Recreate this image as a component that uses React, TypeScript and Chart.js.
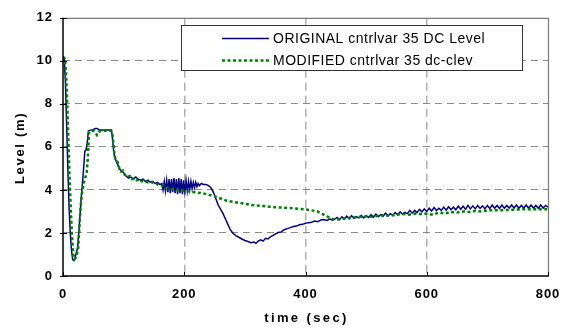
import React, { useEffect, useRef } from "react";
import { Chart, registerables } from "chart.js";

Chart.register(...registerables);

const xTicks = [0, 200, 400, 600, 800];
const yTicks = [0, 2, 4, 6, 8, 10, 12];
const xTitle = "time (sec)";
const yTitle = "Level (m)";
const seriesLabels = ["ORIGINAL cntrlvar 35 DC Level", "MODIFIED cntrlvar 35 dc-clev"];

const originalTime = [
  0, 2, 4, 6, 8, 10, 12, 14, 16, 18, 20, 22, 24, 26, 28, 30, 32, 34, 36, 38, 40, 42, 45, 50, 53, 56, 60, 65, 70, 75, 80,
  82, 84, 86, 90, 94, 98, 100, 104, 108, 112, 116, 120, 124, 128, 132, 136, 140, 144, 148, 152, 156, 160, 163,
  165, 167, 169, 171, 173, 175, 177, 179, 181, 183, 185, 187, 189, 191, 193, 195, 197, 199, 201, 203, 205, 207, 209,
  211, 213, 215, 217, 219, 221, 223, 225, 228, 232, 236, 240, 244, 248, 252, 256, 260, 264, 268, 272, 276, 280, 285,
  290, 295, 300, 305, 310, 315, 318, 322, 326, 330, 334, 338, 342, 346, 350, 355, 360, 365, 370, 375, 380, 385, 390,
  395, 400, 405, 410, 415, 420, 425, 430, 435, 440, 445, 450,
  452, 456, 460, 464, 468, 472, 476, 480, 484, 488, 492, 496, 500, 504, 508, 512, 516, 520, 524, 528, 532, 536, 540,
  544, 548, 552, 556, 560, 564, 568, 572, 576, 580, 584, 588, 592, 596, 600, 604, 608, 612, 616, 620, 624, 628, 632,
  636, 640, 644, 648, 652, 656, 660, 664, 668, 672, 676, 680, 684, 688, 692, 696, 700, 704, 708, 712, 716, 720, 724,
  728, 732, 736, 740, 744, 748, 752, 756, 760, 764, 768, 772, 776, 780, 784, 788, 792, 796, 800,
];
const originalLevel = [
  10.2, 10.1, 9.0, 7.0, 5.0, 3.2, 2.0, 1.2, 0.75, 0.72, 0.85, 1.1, 1.3, 2.0, 2.8, 3.6, 4.3, 5.0, 5.8, 5.85, 6.2, 6.75,
  6.78, 6.8, 6.85, 6.85, 6.8, 6.78, 6.78, 6.78, 6.78,
  6.3, 5.7, 5.45, 5.2, 4.95, 4.85, 4.8, 4.65, 4.55, 4.6, 4.5, 4.6, 4.5, 4.45, 4.5, 4.4, 4.45, 4.35, 4.4, 4.3, 4.35,
  4.25, 4.3,
  4.0, 4.4, 3.95, 4.45, 3.9, 4.5, 3.85, 4.5, 3.9, 4.55, 3.85, 4.5, 3.8, 4.55, 3.85, 4.5, 3.8, 4.45, 3.9, 4.45, 3.95,
  4.4, 4.0, 4.4, 4.05, 4.35, 4.1, 4.35, 4.15, 4.3, 4.2, 4.3, 4.25, 4.25, 4.2, 4.1, 3.9, 3.6, 3.3, 3.1, 2.9, 2.65, 2.4,
  2.15, 2.0, 1.88, 1.8, 1.72, 1.65, 1.6, 1.55, 1.58, 1.52, 1.62, 1.68, 1.62, 1.75, 1.72, 1.82, 1.88, 1.95, 2.02, 2.05,
  2.15, 2.2, 2.25, 2.3, 2.32, 2.38, 2.4, 2.45, 2.48, 2.5, 2.55, 2.52, 2.6, 2.62, 2.58, 2.65, 2.6, 2.68,
  2.72, 2.62, 2.75, 2.65, 2.78, 2.66, 2.8, 2.68, 2.76, 2.7, 2.82, 2.7, 2.8, 2.72, 2.85, 2.74, 2.88, 2.76, 2.85, 2.78,
  2.92, 2.8, 2.9, 2.82, 2.95, 2.84, 2.98, 2.88, 2.96, 2.9, 3.05, 2.92, 3.05, 2.95, 3.1, 2.98, 3.12, 3.0, 3.15, 3.02,
  3.18, 3.04, 3.15, 3.05, 3.2, 3.06, 3.22, 3.08, 3.2, 3.08, 3.25, 3.1, 3.24, 3.1, 3.28, 3.12, 3.26, 3.12, 3.28, 3.14,
  3.26, 3.12, 3.28, 3.14, 3.3, 3.15, 3.28, 3.14, 3.3, 3.15, 3.28, 3.16, 3.3, 3.16, 3.3, 3.15, 3.28, 3.16, 3.3, 3.15,
  3.3, 3.16, 3.28, 3.15, 3.3, 3.16, 3.28, 3.2,
];

const modifiedTime = [
  0, 3, 5, 7, 9, 11, 13, 15, 17, 19, 21, 23, 25, 27, 29, 31, 33, 35, 37, 39, 41, 43, 46, 50, 53, 56, 59, 63, 70, 78,
  81, 83, 85, 87, 90, 93, 96, 99, 102, 106, 110, 114, 118, 122, 126, 130, 135, 140, 145, 150, 155, 160, 165, 170, 175,
  180, 185, 190, 195, 200, 210, 220, 230, 240, 250, 260, 270, 280, 290, 300, 310, 320, 330, 340, 350, 360, 370, 380,
  390, 400, 410, 420, 425, 430, 435, 440, 445, 450, 460, 470, 480, 490, 500, 510, 520, 530, 540, 550, 560, 570, 580,
  590, 600, 610, 620, 630, 640, 650, 660, 670, 680, 690, 700, 720, 740, 760, 780, 800,
];
const modifiedLevel = [
  10.2, 10.1, 9.5, 8.0, 6.2, 4.5, 3.0, 1.8, 1.0, 0.78, 0.85, 1.0, 1.3, 2.2, 3.2, 3.8, 4.1, 4.4, 4.6, 4.75, 5.5, 6.7,
  6.75, 6.75, 6.7, 6.55, 6.7, 6.75, 6.75, 6.75,
  6.7, 6.2, 5.6, 5.4, 5.3, 5.0, 4.85, 4.9, 4.7, 4.6, 4.65, 4.5, 4.55, 4.45, 4.5, 4.4, 4.42, 4.35, 4.38, 4.3, 4.28, 4.2,
  4.2, 4.1, 4.12, 4.05, 4.05, 4.0, 3.98, 3.95, 3.92, 3.88, 3.85, 3.78, 3.7, 3.6, 3.5, 3.45, 3.4, 3.36, 3.3, 3.28, 3.25,
  3.22, 3.2, 3.18, 3.16, 3.15, 3.12, 3.1, 3.05, 3.0, 2.92, 2.85, 2.78, 2.7, 2.65, 2.62, 2.65, 2.7, 2.72, 2.75, 2.78,
  2.75, 2.8, 2.82, 2.8, 2.85, 2.88, 2.85, 2.9, 2.88, 2.9, 2.85, 2.95, 2.9, 2.98, 2.95, 3.0, 2.98, 3.02, 3.0, 3.05, 3.05,
  3.08, 3.1, 3.1, 3.1,
];

const FONT = "'Liberation Sans', Arial, Helvetica, sans-serif";

const decorPlugin = {
  id: "decor",
  beforeDraw(chart: any) {
    (chart.ctx as any).letterSpacing = "1px";
  },
  afterDraw(chart: any) {
    const ctx = chart.ctx as any;
    const ca = chart.chartArea;
    const xs = chart.scales.x;
    const ys = chart.scales.y;
    ctx.save();
    ctx.setLineDash([]);
    ctx.strokeStyle = "#7a7a7a";
    ctx.lineWidth = 1.2;
    ctx.beginPath();
    ctx.moveTo(ca.left, ca.top + 0.5);
    ctx.lineTo(ca.right + 0.5, ca.top + 0.5);
    ctx.lineTo(ca.right + 0.5, ca.bottom);
    ctx.stroke();
    ctx.strokeStyle = "#000";
    ctx.lineWidth = 1.5;
    ctx.beginPath();
    ctx.moveTo(ca.left, ca.top);
    ctx.lineTo(ca.left, ca.bottom);
    ctx.lineTo(ca.right + 1, ca.bottom);
    ctx.stroke();
    ctx.lineWidth = 1;
    ctx.beginPath();
    xTicks.forEach((v) => {
      const px = Math.round(xs.getPixelForValue(v)) + 0.5;
      ctx.moveTo(px, ca.bottom);
      ctx.lineTo(px, ca.bottom - 4);
    });
    yTicks.forEach((v) => {
      const py = Math.round(ys.getPixelForValue(v)) + 0.5;
      ctx.moveTo(ca.left - 3, py);
      ctx.lineTo(ca.left + 4, py);
    });
    ctx.stroke();

    ctx.fillStyle = "#000";
    ctx.font = `bold 13px ${FONT}`;
    ctx.textBaseline = "middle";
    ctx.textAlign = "center";
    ctx.letterSpacing = "2.4px";
    ctx.fillText(xTitle, (ca.left + ca.right) / 2 + 1, 318);
    ctx.save();
    ctx.translate(20, (ca.top + ca.bottom) / 2 + 1);
    ctx.rotate(-Math.PI / 2);
    ctx.letterSpacing = "1.7px";
    ctx.fillText(yTitle, 0, 0);
    ctx.restore();

    const lx = 181.5, ly = 25.5, lw = 341, lh = 45;
    ctx.fillStyle = "#fff";
    ctx.fillRect(lx, ly, lw, lh);
    ctx.strokeStyle = "#333";
    ctx.lineWidth = 1;
    ctx.strokeRect(lx, ly, lw, lh);
    const ds = chart.data.datasets;
    const rows = [38.5, 60.5];
    ds.forEach((d: any, i: number) => {
      const y = rows[i];
      ctx.save();
      ctx.strokeStyle = d.borderColor;
      ctx.lineWidth = d.borderWidth;
      ctx.setLineDash(d.borderDash || []);
      ctx.beginPath();
      ctx.moveTo(222, y);
      ctx.lineTo(269, y);
      ctx.stroke();
      ctx.restore();
      ctx.fillStyle = "#000";
      ctx.font = `14px ${FONT}`;
      ctx.textAlign = "left";
      ctx.textBaseline = "middle";
      ctx.letterSpacing = "0.5px";
      ctx.fillText(d.label, 273, y + 0.5);
    });
    ctx.restore();
    ctx.letterSpacing = "0px";
  },
};

export default function App() {
  const canvasRef = useRef<HTMLCanvasElement | null>(null);

  useEffect(() => {
    const canvas = canvasRef.current;
    if (!canvas) return;
    const chart = new Chart(canvas, {
      type: "line",
      data: {
        datasets: [
          {
            label: seriesLabels[0],
            data: originalTime.map((t, i) => ({ x: t, y: originalLevel[i] })),
            borderColor: "#000080",
            borderWidth: 1.5,
            pointRadius: 0,
            tension: 0,
            fill: false,
            order: 1,
          },
          {
            label: seriesLabels[1],
            data: modifiedTime.map((t, i) => ({ x: t, y: modifiedLevel[i] })),
            borderColor: "#008000",
            borderWidth: 2.5,
            borderDash: [3, 2.5],
            pointRadius: 0,
            tension: 0,
            fill: false,
            order: 0,
          },
        ],
      },
      options: {
        animation: false,
        responsive: false,
        maintainAspectRatio: false,
        layout: { padding: { top: 9, right: 26, bottom: 0, left: 0 } },
        plugins: { legend: { display: false }, tooltip: { enabled: false } },
        scales: {
          x: {
            type: "linear",
            min: 0,
            max: 800,
            afterBuildTicks: (s: any) => {
              s.ticks = xTicks.map((v) => ({ value: v }));
            },
            afterFit: (s: any) => {
              s.height = 55;
            },
            ticks: {
              color: "#000",
              font: { family: FONT, size: 13, weight: "bold" },
              padding: 11,
              maxRotation: 0,
              autoSkip: false,
            },
            grid: {
              drawTicks: false,
              lineWidth: 1.5,
              color: (c: any) => (c.tick && (c.tick.value === 0 || c.tick.value === 800) ? "rgba(0,0,0,0)" : "#b0b0b0"),
            },
            border: { display: false, dash: [8, 5] },
          },
          y: {
            type: "linear",
            min: 0,
            max: 12,
            afterBuildTicks: (s: any) => {
              s.ticks = yTicks.map((v) => ({ value: v }));
            },
            afterFit: (s: any) => {
              s.width = 63;
            },
            ticks: {
              color: "#000",
              font: { family: FONT, size: 13, weight: "bold" },
              padding: 10,
            },
            grid: {
              drawTicks: false,
              lineWidth: 1,
              color: (c: any) => (c.tick && (c.tick.value === 0 || c.tick.value === 12) ? "rgba(0,0,0,0)" : "#8a8a8a"),
            },
            border: { display: false, dash: [7, 5] },
          },
        },
      } as any,
      plugins: [decorPlugin],
    });
    return () => chart.destroy();
  }, []);

  return (
    <div style={{ position: "fixed", left: 0, top: 0, width: 574, height: 331, background: "#fff" }}>
      <canvas ref={canvasRef} width={574} height={331} style={{ display: "block", width: 574, height: 331 }} />
    </div>
  );
}
